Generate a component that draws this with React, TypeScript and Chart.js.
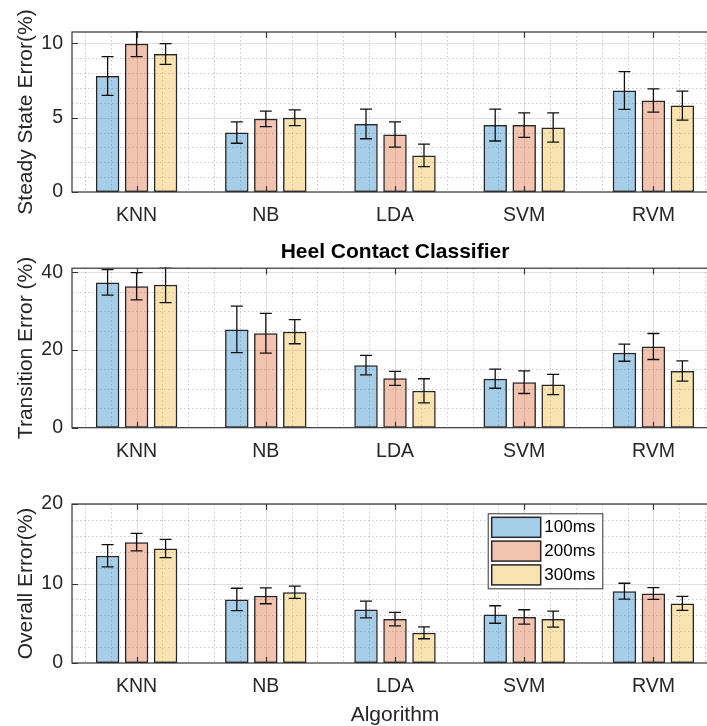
import React, { useEffect, useRef } from 'react';
import { Chart, registerables } from 'chart.js';

Chart.register(...registerables);

// ---------- data ----------
const categories = ['KNN', 'NB', 'LDA', 'SVM', 'RVM'];
const windowLabels = ['100ms', '200ms', '300ms'];

const steady100 = [7.8, 4.0, 4.58, 4.5, 6.82];
const steady200 = [9.97, 4.92, 3.87, 4.5, 6.15];
const steady300 = [9.28, 4.99, 2.46, 4.34, 5.81];
const steady100Err = [1.3, 0.72, 1.0, 1.07, 1.27];
const steady200Err = [0.87, 0.52, 0.85, 0.82, 0.78];
const steady300Err = [0.7, 0.53, 0.76, 0.98, 0.98];

const trans100 = [37.4, 25.3, 16.1, 12.6, 19.3];
const trans200 = [36.4, 24.3, 12.7, 11.7, 20.9];
const trans300 = [36.8, 24.7, 9.5, 11.1, 14.6];
const trans100Err = [3.3, 6.0, 2.5, 2.45, 2.2];
const trans200Err = [3.5, 5.1, 1.8, 2.9, 3.35];
const trans300Err = [4.6, 3.1, 3.1, 2.6, 2.6];

const overall100 = [13.5, 8.0, 6.73, 6.1, 9.03];
const overall200 = [15.2, 8.45, 5.52, 5.8, 8.74];
const overall300 = [14.4, 8.9, 3.8, 5.52, 7.49];
const overall100Err = [1.4, 1.4, 1.05, 1.1, 1.0];
const overall200Err = [1.1, 1.0, 0.84, 0.9, 0.73];
const overall300Err = [1.15, 0.78, 0.75, 1.0, 0.88];

const steadyTicks = [0, 5, 10];
const transTicks = [0, 20, 40];
const overallTicks = [0, 10, 20];

// ---------- styles ----------
const FONT = '"Liberation Sans", Arial, Helvetica, sans-serif';
const TEXT = '#262626';
const AXIS = '#333333';
const fills = ['rgba(0,114,189,0.35)', 'rgba(217,83,25,0.35)', 'rgba(237,177,32,0.35)'];
const CANVAS_W = 730;

const panels = [
  {
    yTitle: 'Steady State Error(%)',
    values: [steady100, steady200, steady300],
    errors: [steady100Err, steady200Err, steady300Err],
    yMax: 10.76, yTicks: steadyTicks, yMinor: 1,
    top: 0, height: 228, padTop: 32, xHeight: 36,
    title: null as string | null, xTitle: null as string | null, legend: false,
  },
  {
    yTitle: 'Transition Error (%)',
    values: [trans100, trans200, trans300],
    errors: [trans100Err, trans200Err, trans300Err],
    yMax: 41.05, yTicks: transTicks, yMinor: 5,
    top: 228, height: 240, padTop: 0, xHeight: 40.3,
    title: 'Heel Contact Classifier', xTitle: null, legend: false,
  },
  {
    yTitle: 'Overall Error(%)',
    values: [overall100, overall200, overall300],
    errors: [overall100Err, overall200Err, overall300Err],
    yMax: 20, yTicks: overallTicks, yMinor: 2,
    top: 468, height: 272, padTop: 36, xHeight: 77,
    title: null, xTitle: 'Algorithm', legend: true,
  },
];

// grid behind bars (MATLAB-like major + dotted minor)
const gridPlugin = {
  id: 'mgrid',
  beforeDatasetsDraw(chart: any, _a: any, opts: any) {
    const { ctx, chartArea: a, scales } = chart;
    const x = scales.x, y = scales.y;
    ctx.save();
    ctx.beginPath();
    ctx.rect(a.left, a.top, a.right - a.left, a.bottom - a.top);
    ctx.clip();
    ctx.lineWidth = 1;
    // minor
    ctx.setLineDash([1.5, 2.5]);
    ctx.strokeStyle = 'rgba(38,38,38,0.24)';
    for (let m = -3; m <= 23; m++) {
      if (m % 5 === 0) continue;
      const v = m * 0.2;
      const px = Math.round(x.getPixelForValue(v)) + 0.5;
      if (px < a.left || px > a.right) continue;
      ctx.beginPath(); ctx.moveTo(px, a.top); ctx.lineTo(px, a.bottom); ctx.stroke();
    }
    const step = opts.minor;
    for (let k = 1; k * step < opts.max; k++) {
      const v = k * step;
      if (opts.ticks.includes(v)) continue;
      const py = Math.round(y.getPixelForValue(v)) + 0.5;
      ctx.beginPath(); ctx.moveTo(a.left, py); ctx.lineTo(a.right, py); ctx.stroke();
    }
    // major
    ctx.setLineDash([]);
    ctx.strokeStyle = 'rgba(38,38,38,0.15)';
    for (let i = 0; i < categories.length; i++) {
      const px = Math.round(x.getPixelForValue(i)) + 0.5;
      ctx.beginPath(); ctx.moveTo(px, a.top); ctx.lineTo(px, a.bottom); ctx.stroke();
    }
    for (const v of opts.ticks) {
      const py = Math.round(y.getPixelForValue(v)) + 0.5;
      ctx.beginPath(); ctx.moveTo(a.left, py); ctx.lineTo(a.right, py); ctx.stroke();
    }
    ctx.restore();
  },
};

// error bars + axes box + inward ticks
const overlayPlugin = {
  id: 'moverlay',
  afterDatasetsDraw(chart: any, _a: any, opts: any) {
    const { ctx, chartArea: a, scales } = chart;
    const x = scales.x, y = scales.y;
    ctx.save();
    ctx.beginPath();
    ctx.rect(a.left, a.top - 1, a.right - a.left, a.bottom - a.top + 2);
    ctx.clip();
    ctx.strokeStyle = '#111111';
    ctx.lineWidth = 1.3;
    chart.data.datasets.forEach((ds: any, i: number) => {
      const meta = chart.getDatasetMeta(i);
      meta.data.forEach((el: any, j: number) => {
        const v = ds.data[j], e = ds.errors[j];
        const cx = el.x;
        const yt = y.getPixelForValue(v + e);
        const yb = y.getPixelForValue(v - e);
        const hw = 6;
        ctx.beginPath();
        ctx.moveTo(cx, yt); ctx.lineTo(cx, yb);
        ctx.moveTo(cx - hw, yt); ctx.lineTo(cx + hw, yt);
        ctx.moveTo(cx - hw, yb); ctx.lineTo(cx + hw, yb);
        ctx.stroke();
      });
    });
    ctx.restore();

    ctx.save();
    ctx.strokeStyle = AXIS;
    ctx.lineWidth = 1.2;
    ctx.strokeRect(a.left, a.top, a.right - a.left, a.bottom - a.top);
    const tl = 6;
    ctx.beginPath();
    for (let i = 0; i < categories.length; i++) {
      const px = Math.round(x.getPixelForValue(i)) + 0.5;
      ctx.moveTo(px, a.bottom); ctx.lineTo(px, a.bottom - tl);
      ctx.moveTo(px, a.top); ctx.lineTo(px, a.top + tl);
    }
    for (const v of opts.ticks) {
      const py = Math.round(y.getPixelForValue(v)) + 0.5;
      ctx.moveTo(a.left, py); ctx.lineTo(a.left + tl, py);
      ctx.moveTo(a.right, py); ctx.lineTo(a.right - tl, py);
    }
    ctx.stroke();
    ctx.restore();
  },
};

// legend drawn inside the plot area
const insideLegendPlugin = {
  id: 'mlegend',
  afterDraw(chart: any, _a: any, opts: any) {
    if (!opts.show) return;
    const { ctx, chartArea: a } = chart;
    const bx = a.left + 415.7, by = a.top + 9.3, bw = 114.6, bh = 75;
    ctx.save();
    ctx.fillStyle = '#ffffff';
    ctx.fillRect(bx, by, bw, bh);
    ctx.strokeStyle = AXIS;
    ctx.lineWidth = 1;
    ctx.strokeRect(bx + 0.5, by + 0.5, bw, bh);
    const rowH = 23.8;
    chart.data.datasets.forEach((ds: any, i: number) => {
      const ry = by + 4 + i * rowH;
      ctx.fillStyle = ds.backgroundColor;
      ctx.fillRect(bx + 4, ry, 49, 20);
      ctx.strokeStyle = '#262626';
      ctx.lineWidth = 1.5;
      ctx.strokeRect(bx + 4, ry, 49, 20);
      ctx.fillStyle = '#000000';
      ctx.font = `17px ${FONT}`;
      ctx.textBaseline = 'middle';
      ctx.textAlign = 'left';
      ctx.fillText(ds.label, bx + 56.6, ry + 10.5);
    });
    ctx.restore();
  },
};

function Panel({ p }: { p: typeof panels[number] }) {
  const ref = useRef<HTMLCanvasElement | null>(null);
  useEffect(() => {
    if (!ref.current) return;
    const chart = new Chart(ref.current, {
      type: 'bar',
      data: {
        labels: categories,
        datasets: windowLabels.map((w, i) => ({
          label: w,
          data: p.values[i],
          errors: p.errors[i],
          backgroundColor: fills[i],
          borderColor: '#262626',
          borderWidth: 1.5,
          borderSkipped: false,
          categoryPercentage: 0.673,
          barPercentage: 0.81,
        })) as any,
      },
      options: {
        animation: false,
        responsive: false,
        maintainAspectRatio: false,
        events: [],
        layout: { padding: { top: p.padTop, left: 0, right: CANVAS_W - 718, bottom: 0 } },
        plugins: {
          legend: { display: false },
          tooltip: { enabled: false },
          title: {
            display: !!p.title,
            text: p.title || '',
            fullSize: false,
            color: '#000000',
            font: { family: FONT, size: 21, weight: 'bold' },
            padding: { top: 12, bottom: 3 },
          },
          mgrid: { ticks: p.yTicks, minor: p.yMinor, max: p.yMax },
          moverlay: { ticks: p.yTicks },
          mlegend: { show: p.legend },
        } as any,
        scales: {
          x: {
            type: 'category',
            offset: true,
            grid: { display: false, drawTicks: false },
            border: { display: false },
            ticks: { color: TEXT, font: { family: FONT, size: 19.5 }, padding: 12, maxRotation: 0, autoSkip: false },
            title: {
              display: !!p.xTitle,
              text: p.xTitle || '',
              color: TEXT,
              font: { family: FONT, size: 21 },
              padding: { top: 0, bottom: 12 },
            },
            afterFit: (s: any) => { s.height = p.xHeight; },
          },
          y: {
            type: 'linear',
            min: 0,
            max: p.yMax,
            grid: { display: false, drawTicks: false },
            border: { display: false },
            ticks: { color: TEXT, font: { family: FONT, size: 19.5 }, padding: 9 },
            afterBuildTicks: (s: any) => { s.ticks = p.yTicks.map((v) => ({ value: v })); },
            title: {
              display: true,
              text: p.yTitle,
              color: TEXT,
              font: { family: FONT, size: 21 },
              padding: { top: 14, bottom: 0 },
            },
            afterFit: (s: any) => { s.width = 72; },
          },
        } as any,
      },
      plugins: [gridPlugin, overlayPlugin, insideLegendPlugin],
    });
    return () => chart.destroy();
  }, []);
  return (
    <canvas
      ref={ref}
      width={CANVAS_W}
      height={p.height}
      style={{ position: 'absolute', left: 0, top: p.top, width: CANVAS_W, height: p.height }}
    />
  );
}

export default function App() {
  return (
    <div style={{ position: 'fixed', left: 0, top: 0, width: 707, height: 726, overflow: 'hidden', background: '#ffffff' }}>
      {panels.map((p, i) => (
        <Panel key={i} p={p} />
      ))}
    </div>
  );
}
